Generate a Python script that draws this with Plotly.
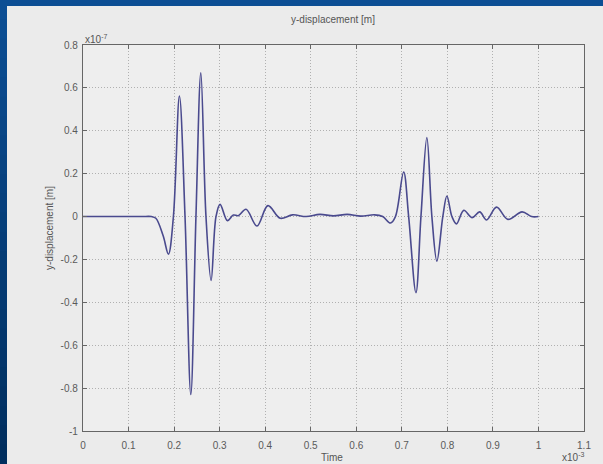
import plotly.graph_objects as go

# Time axis values are in units of 1e-3, displacement in units of 1e-7 m
time_ms = [0, 0.05, 0.10, 0.13, 0.15, 0.16, 0.176, 0.1875, 0.1985, 0.2117, 0.224, 0.2367,
           0.248, 0.2587, 0.270, 0.2813, 0.292, 0.301, 0.317, 0.330, 0.341, 0.358,
           0.382, 0.406, 0.433, 0.46, 0.49, 0.52, 0.55, 0.58, 0.61, 0.64, 0.658,
           0.675, 0.686, 0.704, 0.715, 0.731, 0.742, 0.755, 0.766, 0.777, 0.790,
           0.799, 0.810, 0.820, 0.836, 0.854, 0.871, 0.886, 0.908, 0.933, 0.964,
           0.985, 1.0]
disp_e7 = [0, 0, 0, 0, 0, -0.008, -0.09, -0.175, 0, 0.562, 0, -0.83,
           0, 0.67, 0, -0.298, 0, 0.057, -0.019, 0.007, 0.004, 0.034,
           -0.044, 0.051, -0.008, 0.008, 0.0, 0.01, 0.003, 0.01, 0.002, 0.008, 0.0,
           -0.03, 0, 0.208, 0, -0.355, 0, 0.368, 0, -0.208, 0,
           0.096, 0, -0.034, 0.029, -0.005, 0.022, -0.016, 0.044, -0.013, 0.022,
           0.0, 0.0]

x_ticks = [0, 0.1, 0.2, 0.3, 0.4, 0.5, 0.6, 0.7, 0.8, 0.9, 1.0, 1.1]
x_labels = ["0", "0.1", "0.2", "0.3", "0.4", "0.5", "0.6", "0.7", "0.8", "0.9", "1", "1.1"]
y_ticks = [-1, -0.8, -0.6, -0.4, -0.2, 0, 0.2, 0.4, 0.6, 0.8]
y_labels = ["-1", "-0.8", "-0.6", "-0.4", "-0.2", "0", "0.2", "0.4", "0.6", "0.8"]

W, H = 603, 464
L, R, T, B = 83, 19, 45, 33
PW, PH = W - L - R, H - T - B


def px_x(px):
    return (px - L) / PW


def px_y(py):
    return (H - B - py) / PH


fig = go.Figure()
fig.add_trace(go.Scatter(
    x=time_ms, y=disp_e7, mode="lines",
    line=dict(color="#4a4a8e", width=1.6, shape="spline", smoothing=1.0),
    hoverinfo="skip", showlegend=False,
))

shapes = []
# slide background: vertical blue gradient built from horizontal bands
top_rgb = (12, 78, 148)
bot_rgb = (0, 46, 94)
n = 24
for i in range(n):
    f = i / (n - 1)
    c = tuple(round(top_rgb[k] + (bot_rgb[k] - top_rgb[k]) * f) for k in range(3))
    y0 = i * H / n
    y1 = (i + 1) * H / n + 1
    shapes.append(dict(type="rect", xref="paper", yref="paper", layer="below",
                       x0=px_x(0), x1=px_x(W), y0=px_y(y1), y1=px_y(y0),
                       fillcolor="rgb(%d,%d,%d)" % c, line=dict(width=0)))
# figure panel
shapes.append(dict(type="rect", xref="paper", yref="paper", layer="below",
                   x0=px_x(7), x1=px_x(W + 2), y0=px_y(H + 2), y1=px_y(6),
                   fillcolor="#ebebeb", line=dict(width=0)))
# axes area
shapes.append(dict(type="rect", xref="paper", yref="paper", layer="below",
                   x0=0, x1=1, y0=0, y1=1, fillcolor="#eeeeee", line=dict(width=0)))

tick_font = dict(family="Liberation Sans, Arial, sans-serif", size=10, color="#5a5a5a")
label_font = dict(family="Liberation Sans, Arial, sans-serif", size=10, color="#555555")

annotations = [
    dict(text="y-displacement [m]", xref="paper", yref="paper", x=px_x(333), y=px_y(20),
         showarrow=False, font=label_font, xanchor="center", yanchor="middle"),
    dict(text="Time", xref="paper", yref="paper", x=px_x(332), y=px_y(457),
         showarrow=False, font=label_font, xanchor="center", yanchor="middle"),
    dict(text="y-displacement [m]", xref="paper", yref="paper", x=px_x(49), y=px_y(228),
         showarrow=False, font=label_font, textangle=-90, xanchor="center", yanchor="middle"),
    dict(text="x10<sup>-7</sup>", xref="paper", yref="paper", x=px_x(83), y=px_y(39),
         showarrow=False, font=label_font, xanchor="left", yanchor="middle"),
    dict(text="x10<sup>-3</sup>", xref="paper", yref="paper", x=px_x(586), y=px_y(457),
         showarrow=False, font=label_font, xanchor="right", yanchor="middle"),
]

axis_common = dict(
    showline=True, linecolor="#666666", linewidth=1.3, mirror="ticks",
    ticks="inside", ticklen=4, tickcolor="#666666",
    showgrid=True, gridcolor="#b0b0b0", gridwidth=1, griddash="1px,2px",
    zeroline=False, tickfont=tick_font, tickmode="array", fixedrange=True,
)

fig.update_layout(
    width=W, height=H,
    margin=dict(l=L, r=R, t=T, b=B, pad=0),
    paper_bgcolor="#0a4584", plot_bgcolor="rgba(0,0,0,0)",
    xaxis=dict(range=[0, 1.1], tickvals=x_ticks, ticktext=x_labels,
               ticklabelstandoff=5, **axis_common),
    yaxis=dict(range=[-1, 0.8], tickvals=y_ticks, ticktext=y_labels,
               ticklabelstandoff=2, **axis_common),
    shapes=shapes, annotations=annotations,
)

fig.write_html("out.html")
